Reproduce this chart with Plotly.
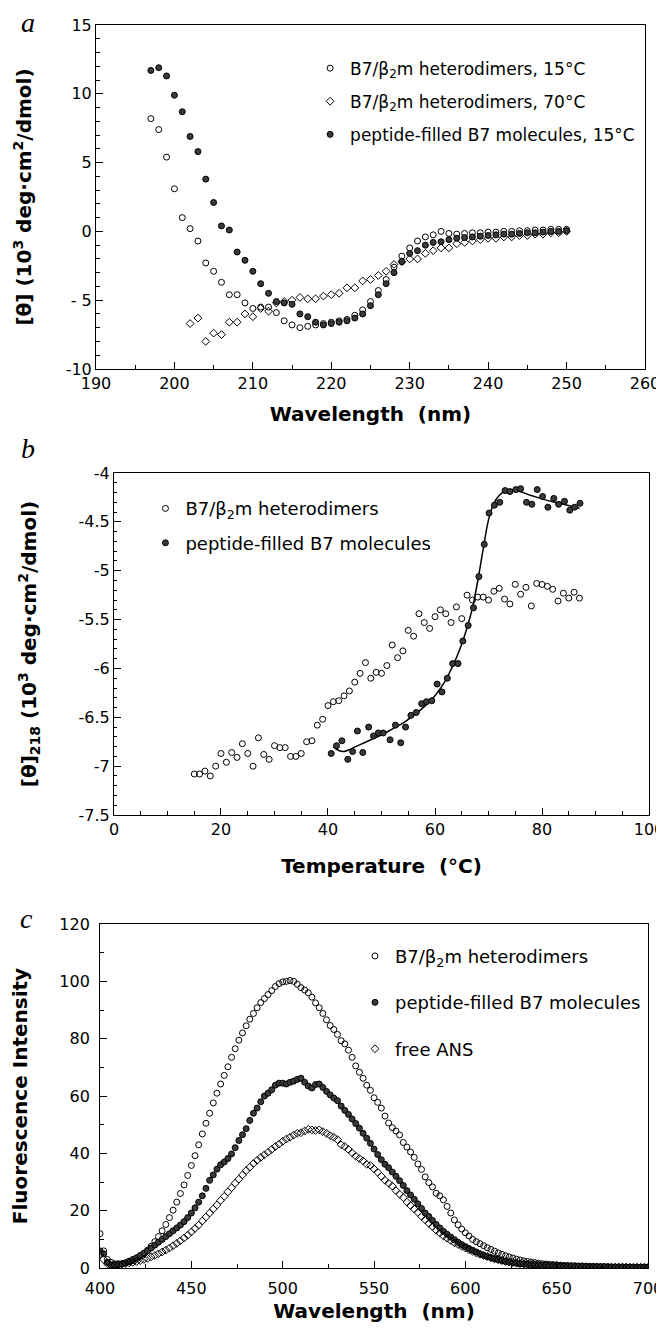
import plotly.graph_objects as go

# ---- panel a : CD spectra ----
wl_a = list(range(197, 251))
wl_a70 = list(range(202, 251))
het15 = [8.2, 7.4, 5.4, 3.1, 1.0, 0.2, -0.7, -2.3, -2.9, -3.7,
         -4.6, -4.6, -5.2, -5.6, -5.5, -5.5, -5.9, -6.5, -6.8, -7.0,
         -6.9, -6.8, -6.7, -6.6, -6.5, -6.4, -6.1, -5.7, -5.1, -4.3,
         -3.5, -2.6, -1.8, -1.2, -0.7, -0.4, -0.25, 0.0, -0.15, -0.2,
         -0.15, -0.1, -0.1, -0.05, -0.05, 0.0, 0.0, 0.05, 0.05, 0.1,
         0.1, 0.15, 0.15, 0.15]
het70 = [-6.7, -6.3, -8.0, -7.4, -7.5, -6.6, -6.6, -6.0, -6.2, -5.6,
         -5.8, -5.2, -5.1, -5.0, -4.8, -4.9, -4.9, -4.7, -4.6, -4.5,
         -4.1, -4.1, -3.6, -3.5, -3.2, -2.9, -2.4, -2.2, -2.0, -2.0,
         -1.6, -1.4, -1.2, -1.2, -0.9, -0.8, -0.7, -0.6, -0.5, -0.5,
         -0.4, -0.4, -0.3, -0.3, -0.2, -0.2, -0.1, -0.1, 0.0]
pep15 = [11.7, 11.9, 11.3, 9.9, 8.7, 6.9, 5.8, 3.8, 2.1, 0.4,
         0.1, -1.5, -2.1, -2.9, -3.8, -4.5, -5.1, -5.2, -5.3, -6.0,
         -6.2, -6.6, -6.8, -6.7, -6.6, -6.5, -6.3, -6.0, -5.4, -4.6,
         -3.8, -3.0, -2.2, -1.6, -1.4, -1.0, -0.8, -0.75, -0.6, -0.5,
         -0.45, -0.4, -0.35, -0.3, -0.25, -0.2, -0.2, -0.15, -0.1, -0.1,
         -0.05, 0.0, 0.0, 0.05]

# ---- panel b : thermal melts at 218 nm ----
temp_het = list(range(15, 88))
melt_het = [-7.08, -7.08, -7.05, -7.10, -7.00, -6.87, -6.96, -6.86, -6.91, -6.77,
            -6.87, -7.00, -6.71, -6.88, -6.93, -6.79, -6.81, -6.81, -6.90, -6.90,
            -6.87, -6.75, -6.74, -6.58, -6.52, -6.38, -6.34, -6.33, -6.28, -6.23,
            -6.14, -6.05, -5.94, -6.10, -6.04, -6.05, -5.97, -5.76, -5.89, -5.82,
            -5.61, -5.67, -5.44, -5.53, -5.59, -5.47, -5.40, -5.44, -5.53, -5.37,
            -5.49, -5.25, -5.30, -5.27, -5.27, -5.30, -5.21, -5.18, -5.29, -5.34,
            -5.14, -5.24, -5.17, -5.36, -5.13, -5.14, -5.16, -5.19, -5.31, -5.23,
            -5.28, -5.22, -5.28]
temp_pep = [40.6, 41.6, 42.6, 43.7, 44.6, 45.5, 46.5, 47.6, 48.5, 49.4,
            50.3, 51.6, 52.6, 53.6, 54.5, 55.5, 56.5, 57.5, 58.4, 59.4,
            60.4, 61.3, 62.3, 63.3, 64.3, 65.2, 66.2, 67.2, 68.2, 69.2,
            70.1, 71.1, 72.1, 73.1, 74.0, 75.1, 76.0, 77.1, 78.1, 79.1,
            80.1, 81.1, 82.2, 83.1, 84.2, 85.2, 86.1, 87.1]
melt_pep = [-6.87, -6.79, -6.74, -6.93, -6.85, -6.64, -6.86, -6.60, -6.69, -6.66,
            -6.66, -6.73, -6.58, -6.76, -6.60, -6.48, -6.45, -6.36, -6.34, -6.33,
            -6.16, -6.24, -6.10, -5.95, -5.95, -5.72, -5.56, -5.38, -5.06, -4.73,
            -4.41, -4.33, -4.30, -4.18, -4.19, -4.17, -4.16, -4.30, -4.32, -4.17,
            -4.24, -4.35, -4.26, -4.32, -4.29, -4.38, -4.35, -4.31]
fit_T = [41, 42, 43, 44, 46, 48, 50, 52, 54, 56, 58, 60, 62, 63, 64,
         65, 66, 67, 68, 69, 70, 71, 72, 73, 75, 78, 81, 84, 87]
fit_v = [-6.80, -6.84, -6.85, -6.83, -6.78, -6.73, -6.68, -6.62, -6.56, -6.48,
         -6.39, -6.28, -6.12, -6.01, -5.89, -5.75, -5.58, -5.38, -5.10, -4.78,
         -4.48, -4.31, -4.23, -4.19, -4.18, -4.23, -4.28, -4.32, -4.36]

# ---- panel c : ANS fluorescence ----
wl_c = list(range(400, 701, 2))
fl_het = [12.0, 6.0, 3.0, 2.0, 1.5, 1.5, 1.5, 1.8, 2.2, 2.6,
          3.2, 4.0, 5.0, 6.2, 7.6, 9.2, 11.0, 13.0, 15.2, 17.6,
          20.2, 23.0, 26.0, 29.0, 32.3, 35.8, 39.2, 43.0, 46.8, 50.5,
          54.0, 57.6, 61.0, 64.2, 67.2, 70.2, 73.5, 76.5, 79.5, 82.0,
          84.5, 86.8, 88.8, 90.8, 92.6, 94.0, 95.4, 96.8, 98.2, 99.2,
          99.8, 100.0, 100.3, 100.0, 99.0, 97.8, 97.0, 96.0, 94.5, 92.5,
          90.8, 88.8, 86.6, 84.6, 83.2, 81.5, 79.3, 78.2, 76.0, 73.5,
          70.5, 68.3, 66.2, 63.8, 62.0, 59.4, 57.8, 55.8, 53.0, 50.6,
          49.0, 47.8, 46.4, 43.8, 42.2, 40.5, 38.6, 36.3, 34.4, 31.8,
          29.8, 28.3, 26.1, 25.2, 23.8, 21.5, 19.2, 16.8, 15.1, 13.6,
          12.3, 11.2, 10.0, 9.2, 8.5, 7.8, 7.1, 6.5, 5.9, 5.3,
          4.8, 4.3, 3.9, 3.5, 3.1, 2.8, 2.5, 2.3, 2.1, 1.9,
          1.7, 1.5, 1.4, 1.3, 1.2, 1.1, 1.0, 0.9, 0.9, 0.8,
          0.8, 0.7, 0.7, 0.6, 0.6, 0.6, 0.5, 0.5, 0.5, 0.5,
          0.4, 0.4, 0.4, 0.4, 0.4, 0.3, 0.3, 0.3, 0.3, 0.3,
          0.3]
fl_pep = [6.0, 5.0, 2.0, 1.0, 1.0, 1.2, 1.4, 1.8, 2.4, 3.0,
          3.6, 4.4, 5.2, 6.0, 7.0, 8.0, 9.0, 10.0, 11.0, 12.0,
          13.0, 14.0, 15.0, 16.2, 17.6, 19.2, 21.0, 23.0, 25.2, 27.8,
          30.6, 32.5, 34.5, 36.0, 37.0, 38.2, 39.8, 42.0, 44.5, 46.5,
          48.6, 51.5, 54.0, 55.8, 58.0, 60.0, 61.0, 62.2, 63.8, 64.5,
          64.5, 64.2, 64.8, 65.2, 65.8, 66.2, 64.8, 63.5, 62.8, 64.0,
          64.2, 63.0, 61.6, 60.4, 59.3, 58.4, 56.5, 55.0, 53.6, 52.0,
          50.4, 48.8, 47.0, 45.3, 43.5, 41.5, 39.6, 37.8, 36.2, 35.0,
          33.5, 32.0, 30.5, 28.8, 27.0, 25.5, 24.0, 22.4, 20.8, 19.2,
          18.0, 16.6, 15.2, 14.0, 12.8, 11.8, 10.8, 9.9, 9.0, 8.2,
          7.5, 6.8, 6.2, 5.6, 5.0, 4.5, 4.0, 3.6, 3.2, 2.9,
          2.6, 2.3, 2.1, 1.9, 1.7, 1.5, 1.4, 1.3, 1.2, 1.1,
          1.0, 0.9, 0.9, 0.8, 0.8, 0.7, 0.7, 0.6, 0.6, 0.6,
          0.5, 0.5, 0.5, 0.5, 0.4, 0.4, 0.4, 0.4, 0.4, 0.3,
          0.3, 0.3, 0.3, 0.3, 0.3, 0.3, 0.2, 0.2, 0.2, 0.2,
          0.2]
fl_ans = [5.0, 3.0, 1.5, 1.0, 1.0, 1.2, 1.4, 1.6, 1.8, 2.0,
          2.3, 2.6, 3.0, 3.4, 3.9, 4.4, 5.0, 5.6, 6.3, 7.0,
          7.8, 8.6, 9.5, 10.5, 11.5, 12.6, 13.8, 15.0, 16.4, 17.8,
          19.2, 20.6, 22.0, 23.6, 25.0, 26.6, 28.0, 29.6, 31.0, 32.5,
          34.0, 35.2, 36.5, 37.6, 38.6, 39.5, 40.4, 41.4, 42.4, 43.2,
          44.2, 45.0, 45.6, 46.4, 47.0, 47.2, 47.8, 48.4, 48.2, 48.0,
          48.2, 47.6, 47.0, 46.2, 45.6, 44.8, 43.0, 42.4, 41.4, 40.2,
          39.0, 38.2, 37.4, 36.2, 35.8, 34.6, 33.4, 32.0, 30.6, 29.6,
          28.6, 27.0, 25.8, 24.6, 23.0, 21.8, 20.6, 19.4, 18.0, 16.8,
          15.6, 14.4, 13.2, 12.2, 11.2, 10.4, 9.6, 8.8, 8.2, 7.6,
          7.0, 6.4, 5.8, 5.3, 4.8, 4.4, 4.0, 3.6, 3.2, 2.9,
          2.6, 2.3, 2.1, 1.9, 1.7, 1.5, 1.4, 1.3, 1.2, 1.1,
          1.0, 0.9, 0.9, 0.8, 0.8, 0.7, 0.7, 0.6, 0.6, 0.6,
          0.5, 0.5, 0.5, 0.5, 0.4, 0.4, 0.4, 0.4, 0.4, 0.3,
          0.3, 0.3, 0.3, 0.3, 0.3, 0.3, 0.3, 0.3, 0.3, 0.3,
          0.3]

SANS = "DejaVu Sans"
open_m = dict(symbol="circle-open", size=6, color="black", line=dict(width=1, color="black"))
fill_m = dict(symbol="circle", size=6, color="#3a3a3a", line=dict(width=1, color="black"))
diam_m = dict(symbol="diamond-open", size=6, color="black", line=dict(width=1, color="black"))

fig = go.Figure()

# panel a
fig.add_trace(go.Scatter(x=wl_a, y=het15, mode="markers", marker=open_m, xaxis="x", yaxis="y",
                         name="B7/β<sub>2</sub>m heterodimers, 15°C", legend="legend", legendgroup="a1"))
fig.add_trace(go.Scatter(x=wl_a70, y=het70, mode="markers", marker=diam_m, xaxis="x", yaxis="y",
                         name="B7/β<sub>2</sub>m heterodimers, 70°C", legend="legend", legendgroup="a2"))
fig.add_trace(go.Scatter(x=wl_a, y=pep15, mode="markers", marker=fill_m, xaxis="x", yaxis="y",
                         name="peptide-filled B7 molecules, 15°C", legend="legend", legendgroup="a3"))

# panel b
fig.add_trace(go.Scatter(x=fit_T, y=fit_v, mode="lines", line=dict(color="black", width=1.5, shape="spline"),
                         xaxis="x2", yaxis="y2", showlegend=False))
fig.add_trace(go.Scatter(x=temp_het, y=melt_het, mode="markers", marker=open_m, xaxis="x2", yaxis="y2",
                         name="B7/β<sub>2</sub>m heterodimers", legend="legend2", legendgroup="b1"))
fig.add_trace(go.Scatter(x=temp_pep, y=melt_pep, mode="markers", marker=fill_m, xaxis="x2", yaxis="y2",
                         name="peptide-filled B7 molecules", legend="legend2", legendgroup="b2"))

# panel c
fig.add_trace(go.Scatter(x=wl_c, y=fl_het, mode="markers", marker=open_m, xaxis="x3", yaxis="y3",
                         name="B7/β<sub>2</sub>m heterodimers", legend="legend3", legendgroup="c1"))
fig.add_trace(go.Scatter(x=wl_c, y=fl_pep, mode="markers", marker=fill_m, xaxis="x3", yaxis="y3",
                         name="peptide-filled B7 molecules", legend="legend3", legendgroup="c2"))
fig.add_trace(go.Scatter(x=wl_c, y=fl_ans, mode="markers", marker=diam_m, xaxis="x3", yaxis="y3",
                         name="free ANS", legend="legend3", legendgroup="c3"))


def axis(**kw):
    base = dict(showline=True, linecolor="black", linewidth=1, mirror=True,
                ticks="inside", ticklen=7, tickcolor="black", showgrid=False, zeroline=False,
                tickfont=dict(family=SANS, size=16, color="black"), automargin=False)
    base.update(kw)
    return base


def title(text, standoff):
    return dict(text=text, standoff=standoff, font=dict(family=SANS, size=20, color="black", weight="bold"))


fig.update_layout(
    width=664, height=1332,
    margin=dict(l=0, r=0, t=0, b=0),
    paper_bgcolor="white", plot_bgcolor="white",
    font=dict(family=SANS, color="black"),
    # panel a
    xaxis=axis(domain=[0.1325, 0.9593], anchor="y", range=[190, 260],
               tickvals=[190, 200, 210, 220, 230, 240, 250, 260],
               minor=dict(ticks="inside", dtick=5, ticklen=4, tickcolor="black"),
               title=title("Wavelength  (nm)", 14)),
    yaxis=axis(domain=[0.729, 0.9872], anchor="x", range=[-10, 15],
               tickvals=[-10, -5, 0, 5, 10, 15], ticktext=["-10", "- 5", "0", "5", "10", "15"],
               minor=dict(ticks="inside", dtick=1, ticklen=4, tickcolor="black"),
               title=title("[θ] (10<sup>3</sup> deg·cm<sup>2</sup>/dmol)", 28)),
    # panel b
    xaxis2=axis(domain=[0.1596, 0.9654], anchor="y2", range=[0, 100],
                tickvals=[0, 20, 40, 60, 80, 100],
                minor=dict(ticks="inside", dtick=5, ticklen=4, tickcolor="black"),
                title=title("Temperature  (°C)", 20)),
    yaxis2=axis(domain=[0.3941, 0.6509], anchor="x2", range=[-7.5, -4],
                tickvals=[-7.5, -7, -6.5, -6, -5.5, -5, -4.5, -4],
                ticktext=["-7.5", "-7", "-6.5", "-6", "-5.5", "-5", "-4.5", "-4"],
                minor=dict(ticks="inside", dtick=0.1, ticklen=3, tickcolor="black"),
                title=title("[θ]<sub>218</sub> (10<sup>3</sup> deg·cm<sup>2</sup>/dmol)", 36)),
    # panel c
    xaxis3=axis(domain=[0.1386, 0.9639], anchor="y3", range=[400, 700],
                tickvals=[400, 450, 500, 550, 600, 650, 700], ticklabelstandoff=6,
                minor=dict(ticks="inside", dtick=25, ticklen=4, tickcolor="black"),
                title=title("Wavelength  (nm)", 6)),
    yaxis3=axis(domain=[0.054, 0.3123], anchor="x3", range=[0, 120],
                tickvals=[0, 20, 40, 60, 80, 100, 120], ticklabelstandoff=6,
                minor=dict(ticks="inside", dtick=10, ticklen=4, tickcolor="black"),
                title=title("Fluorescence Intensity", 26)),
    legend=dict(x=0.455, y=0.968, xanchor="left", yanchor="top", bgcolor="rgba(0,0,0,0)",
                font=dict(family=SANS, size=17, color="black"), tracegroupgap=8),
    legend2=dict(x=0.207, y=0.638, xanchor="left", yanchor="top", bgcolor="rgba(0,0,0,0)",
                 font=dict(family=SANS, size=18, color="black"), tracegroupgap=8),
    legend3=dict(x=0.5226, y=0.302, xanchor="left", yanchor="top", bgcolor="rgba(0,0,0,0)",
                 font=dict(family=SANS, size=18, color="black"), tracegroupgap=20),
)

# panel letters
for letter, px, py in [("a", 20, 15), ("b", 20, 440), ("c", 18, 910)]:
    fig.add_annotation(text="<i>" + letter + "</i>", xref="paper", yref="paper",
                       x=px / 664, y=1 - py / 1332, xanchor="center", yanchor="middle",
                       showarrow=False, font=dict(family="Liberation Serif", size=28, color="black"))

fig.write_html("out.html")
